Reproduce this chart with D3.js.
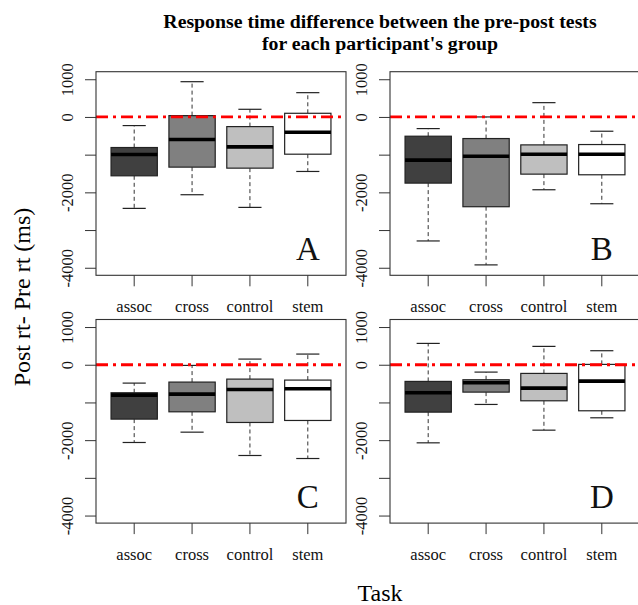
<!DOCTYPE html>
<html>
<head>
<meta charset="utf-8">
<script src="https://cdn.jsdelivr.net/npm/d3@7"></script>
<style>
  body { margin: 0; background: #fff; }
  svg text { font-family: "Liberation Serif", "Times New Roman", serif; }
</style>
</head>
<body>
<div id="vis"></div>
<script>
// task categories and 5-number summaries [lower whisker, Q1, median, Q3, upper whisker]
const categories = ["assoc", "cross", "control", "stem"];

const statsA = [
  [-2425, -1561, -996, -811, -229],
  [-2063, -1331, -600, 35, 935],
  [-2399, -1358, -794, -256, 203],
  [-1446, -988, -406, 97, 644]
];
const statsB = [
  [-3289, -1755, -1146, -511, -309],
  [-3924, -2381, -1041, -573, 0],
  [-1931, -1517, -988, -741, 379],
  [-2302, -1534, -988, -732, -379]
];
const statsC = [
  [-2062, -1442, -805, -743, -487],
  [-1788, -1248, -779, -460, -18],
  [-2407, -1531, -655, -381, 150],
  [-2487, -1478, -637, -407, 283]
];
const statsD = [
  [-2071, -1257, -743, -442, 566],
  [-1053, -726, -478, -398, -195],
  [-1735, -956, -619, -230, 487],
  [-1407, -1221, -434, 9, 372]
];

const yTicks = [1000, 0, -1000, -2000, -3000, -4000];
const yTickLabels = [1000, 0, -2000, -4000];
const panelLabels = ["A", "B", "C", "D"];
const refLine = 0;

const FRAME_WIDTH = 638;
const FRAME_HEIGHT = 605;
const PANEL_W = 250;
const PANEL_H = 203.6;
const FILLS = ["#404040", "#808080", "#bfbfbf", "#ffffff"];

const PANELS = [
  { stats: statsA, x: 96, y: 71.7 },
  { stats: statsB, x: 390, y: 71.7 },
  { stats: statsC, x: 96, y: 319.5 },
  { stats: statsD, x: 390, y: 319.5 }
];

const FRAME = d3.select("#vis")
  .append("svg")
  .attr("width", FRAME_WIDTH)
  .attr("height", FRAME_HEIGHT);

PANELS.forEach((p, i) => {
  const g = FRAME.append("g").attr("transform", `translate(${p.x},${p.y})`);

  // R pads the axis range by 4% on each side
  const Y_SCALE = d3.scaleLinear().domain([-4200, 1200]).range([PANEL_H, 0]);
  const pad = PANEL_W * 0.16 / 4.32;
  const X_SCALE = d3.scaleBand().domain(categories).range([pad, PANEL_W - pad]);
  const bw = X_SCALE.bandwidth();
  const boxW = bw * 0.8;

  const boxes = g.selectAll(".box")
    .data(p.stats.map((s, j) => ({ cat: categories[j], s: s, fill: FILLS[j] })))
    .enter()
    .append("g")
    .attr("transform", (d) => `translate(${X_SCALE(d.cat) + bw / 2},0)`);

  // whiskers
  boxes.append("line")
    .attr("x1", 0).attr("x2", 0)
    .attr("y1", (d) => Y_SCALE(d.s[3]))
    .attr("y2", (d) => Y_SCALE(d.s[4]))
    .attr("stroke", "#333").attr("stroke-dasharray", "4,3");
  boxes.append("line")
    .attr("x1", 0).attr("x2", 0)
    .attr("y1", (d) => Y_SCALE(d.s[1]))
    .attr("y2", (d) => Y_SCALE(d.s[0]))
    .attr("stroke", "#333").attr("stroke-dasharray", "4,3");

  // staples
  [0, 4].forEach((k) => {
    boxes.append("line")
      .attr("x1", -boxW / 4).attr("x2", boxW / 4)
      .attr("y1", (d) => Y_SCALE(d.s[k]))
      .attr("y2", (d) => Y_SCALE(d.s[k]))
      .attr("stroke", "#222").attr("stroke-width", 1.2);
  });

  boxes.append("rect")
    .attr("x", -boxW / 2)
    .attr("width", boxW)
    .attr("y", (d) => Y_SCALE(d.s[3]))
    .attr("height", (d) => Y_SCALE(d.s[1]) - Y_SCALE(d.s[3]))
    .attr("fill", (d) => d.fill)
    .attr("stroke", "#222")
    .attr("stroke-width", 1.2);

  boxes.append("line")
    .attr("x1", -boxW / 2).attr("x2", boxW / 2)
    .attr("y1", (d) => Y_SCALE(d.s[2]))
    .attr("y2", (d) => Y_SCALE(d.s[2]))
    .attr("stroke", "#000").attr("stroke-width", 3.6);

  // reference line at zero
  g.append("line")
    .attr("x1", 0).attr("x2", PANEL_W)
    .attr("y1", Y_SCALE(refLine)).attr("y2", Y_SCALE(refLine))
    .attr("stroke", "#ff0000")
    .attr("stroke-width", 2.8)
    .attr("stroke-dasharray", "12,5,3,5");

  // frame
  g.append("rect")
    .attr("width", PANEL_W).attr("height", PANEL_H)
    .attr("fill", "none").attr("stroke", "#333").attr("stroke-width", 1.1);

  // y axis
  const yAxis = g.append("g")
    .call(d3.axisLeft(Y_SCALE)
      .tickValues(yTicks)
      .tickSize(11)
      .tickFormat((d) => (yTickLabels.includes(d) ? String(d) : "")));
  yAxis.select(".domain").remove();
  yAxis.selectAll("line").attr("stroke", "#333");
  yAxis.selectAll("text")
    .attr("x", 0).attr("dy", 0)
    .attr("transform", "translate(-23,0) rotate(-90)")
    .attr("text-anchor", "middle")
    .attr("font-size", 16.5)
    .attr("fill", "#111");

  // x axis
  const xAxis = g.append("g")
    .attr("transform", `translate(0,${PANEL_H})`)
    .call(d3.axisBottom(X_SCALE).tickSize(11));
  xAxis.select(".domain").remove();
  xAxis.selectAll("line").attr("stroke", "#333");
  xAxis.selectAll("text")
    .attr("y", 37).attr("dy", 0)
    .attr("font-size", 16.5)
    .attr("fill", "#111");

  // panel letter
  g.append("text")
    .attr("x", X_SCALE(categories[3]) + bw / 2)
    .attr("y", PANEL_H - 15)
    .attr("text-anchor", "middle")
    .attr("font-size", 33)
    .attr("fill", "#111")
    .text(panelLabels[i]);
});

// titles
FRAME.append("text")
  .attr("x", 380).attr("y", 28)
  .attr("text-anchor", "middle")
  .attr("font-weight", "bold").attr("font-size", 19.8)
  .text("Response time difference between the pre-post tests");
FRAME.append("text")
  .attr("x", 380).attr("y", 49.5)
  .attr("text-anchor", "middle")
  .attr("font-weight", "bold").attr("font-size", 19.8)
  .text("for each participant's group");

FRAME.append("text")
  .attr("transform", "translate(30,297) rotate(-90)")
  .attr("text-anchor", "middle")
  .attr("font-size", 24)
  .text("Post rt- Pre rt (ms)");

FRAME.append("text")
  .attr("x", 380).attr("y", 601)
  .attr("text-anchor", "middle")
  .attr("font-size", 24)
  .text("Task");
</script>
</body>
</html>
